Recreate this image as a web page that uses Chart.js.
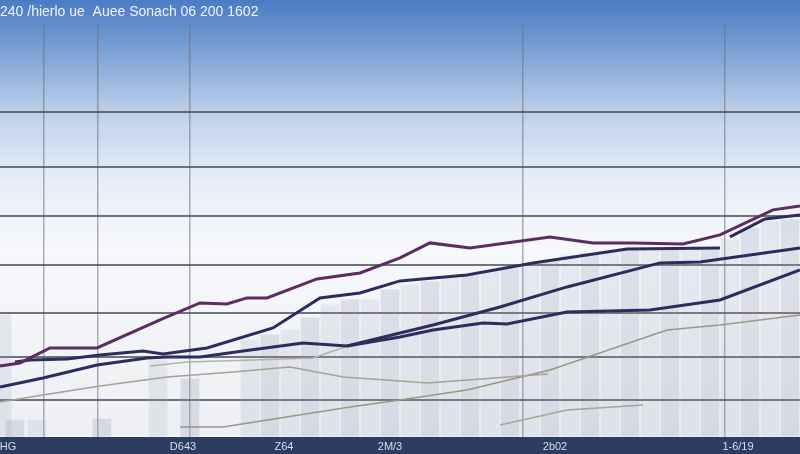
<!DOCTYPE html>
<html><head><meta charset="utf-8">
<script src="https://cdn.jsdelivr.net/npm/chart.js@4.4.1/dist/chart.umd.min.js"></script>
<style>html,body{margin:0;padding:0;background:#fff;overflow:hidden}#wrap{width:800px;height:454px}</style>
</head><body><div id="wrap"><canvas id="c" width="800" height="454"></canvas></div>
<script>
// ---- data ----
const titleText = "240 /hierlo ue  Auee Sonach 06 200 1602";
const tickLabels = ["HG", "D643", "Z64", "2M/3", "2b02", "1-6/19"];
const tickLabelPos = [0.32, 7.32, 11.36, 15.6, 22.2, 29.52];
const xGridPos = [1.76, 3.92, 7.6, 20.92, 29];
const yGridVals = [9.25, 20, 31, 43, 55.25, 67.5, 81.25];

const purpleT = [0, 0.8, 2, 3.88, 6.4, 8, 9.08, 9.88, 10.68, 12.68, 14.4, 16, 17.2, 18.8, 22, 23.72, 25.32, 27.32, 28.8, 30.92, 32];
const purpleV = [17.75, 18.5, 22.25, 22.25, 29.25, 33.5, 33.25, 34.75, 34.75, 39.5, 41, 44.75, 48.5, 47.25, 50, 48.5, 48.5, 48.25, 50.5, 56.75, 57.75];

const navyAT = [0.6, 1.2, 2.68, 4, 5.72, 6.52, 8.28, 10.92, 12.8, 14.4, 16, 18.68, 21.32, 25.08, 28.8];
const navyAV = [18.75, 19.25, 19.5, 20.5, 21.5, 20.75, 22.25, 27.25, 34.75, 36, 39, 40.5, 43.5, 47, 47.25];

const navyBT = [0, 1.72, 3.88, 5.88, 6.68, 8, 9.72, 12.12, 13.88, 16, 17.32, 20, 22.68, 26.4, 28, 32];
const navyBV = [12.5, 14.75, 18, 19.75, 20, 20, 21.5, 23.5, 22.75, 26, 28, 32.5, 37.5, 43.5, 43.75, 47.25];

const navyCT = [13.88, 16, 17.32, 19.32, 20.28, 22.68, 26, 28.8, 32];
const navyCV = [22.75, 25, 26.75, 28.5, 28.25, 31.25, 31.75, 34.25, 41.75];

const navyDT = [29.2, 30.6, 32];
const navyDV = [50, 54.5, 55.5];

const grayAT = [0, 1.72, 4, 6.68, 9.32, 11.6, 13.72, 16, 17.08, 21.92];
const grayAV = [8.75, 10.5, 12.75, 15, 16.25, 17.5, 15, 14, 13.5, 15.75];

const grayBT = [7.2, 8.92, 14, 16, 18.68, 22, 26.68, 28.8, 32];
const grayBV = [2.5, 2.5, 7.5, 9.25, 11.75, 16.75, 26.75, 28, 30.5];

const grayCT = [20, 22.68, 25.72];
const grayCV = [3, 6.75, 8];

const grayDT = [6, 7.48, 10.12, 12.52, 13.8];
const grayDV = [17.75, 18.75, 19.25, 19.75, 22.5];

const barT = [0.08, 0.6, 1.48, 4.08, 6.32, 7.6, 10, 10.8, 11.6, 12.4, 13.2, 14, 14.8, 15.6, 16.4, 17.2, 18, 18.8, 19.6, 20.4, 21.2, 22, 22.8, 23.6, 24.4, 25.2, 26, 26.8, 27.6, 28.4, 29.2, 30, 30.8, 31.6];
const barV = [30.5, 4.25, 4.25, 4.5, 19.25, 14.5, 24.25, 25.5, 26.75, 29.75, 33, 34.25, 34.25, 36.75, 38, 38.75, 39.75, 40.25, 41.25, 42.25, 43.25, 44.25, 45.25, 45.75, 46.25, 46.75, 46.75, 46.75, 46.75, 46.75, 49.25, 52.25, 53.75, 54.25];

// ---- helpers ----
const zip = (t, v) => t.map((x, i) => ({ x: x, y: v[i] }));
const line = (t, v, color, w) => ({
  type: 'line', data: zip(t, v), borderColor: color, borderWidth: w,
  pointRadius: 0, tension: 0, fill: false, order: 1
});

const bgPlugin = {
  id: 'bg',
  beforeDraw(chart) {
    const { ctx, width, height, chartArea } = chart;
    ctx.save();
    const g = ctx.createLinearGradient(0, 0, 0, height);
    g.addColorStop(0, '#4a7bc3');
    g.addColorStop(0.12, '#7fa3d6');
    g.addColorStop(0.25, '#bfd1ea');
    g.addColorStop(0.4, '#e8eef7');
    g.addColorStop(0.55, '#f7f8fb');
    g.addColorStop(1, '#eceef3');
    ctx.fillStyle = g;
    ctx.fillRect(0, 0, width, height);
    ctx.fillStyle = '#2d3c60';
    ctx.fillRect(0, chartArea.bottom, width, height - chartArea.bottom);
    ctx.fillStyle = 'rgba(255,255,255,0.7)';
    ctx.fillRect(0, chartArea.bottom - 1, width, 1);
    ctx.restore();
  }
};

new Chart(document.getElementById('c'), {
  type: 'bar',
  data: {
    datasets: [
      line(purpleT, purpleV, '#5c2c62', 3),
      line(navyAT, navyAV, '#2c2d5e', 3),
      line(navyBT, navyBV, '#2c2d5e', 3),
      line(navyCT, navyCV, '#2c2d5e', 3),
      line(navyDT, navyDV, '#2c2d5e', 3),
      line(grayAT, grayAV, '#a4a394', 1.6),
      line(grayBT, grayBV, '#999884', 1.6),
      line(grayCT, grayCV, '#a6a596', 1.6),
      line(grayDT, grayDV, '#b4b39f', 1.6),
      {
        type: 'bar', data: zip(barT, barV), order: 5,
        backgroundColor: barT.map((_, i) => i % 2 ? 'rgba(150,156,182,0.26)' : 'rgba(160,165,188,0.18)'),
        borderWidth: 0, barThickness: 18, grouped: false
      }
    ]
  },
  options: {
    responsive: false,
    animation: false,
    devicePixelRatio: 1,
    layout: { padding: 0 },
    plugins: {
      legend: { display: false },
      tooltip: { enabled: false },
      title: {
        display: true, text: titleText, align: 'start', color: '#eef3fb',
        font: { family: 'Liberation Sans', size: 14, weight: 'normal' },
        padding: { top: 4, bottom: 4 }
      }
    },
    scales: {
      x: {
        type: 'linear', min: 0, max: 32, offset: false,
        border: { display: false },
        grid: {
          offset: false, drawTicks: false, lineWidth: 1.5,
          color: (c) => (c.tick && xGridPos.includes(c.tick.value)) ? 'rgba(110,110,120,0.55)' : 'rgba(0,0,0,0)'
        },
        afterBuildTicks: (axis) => {
          axis.ticks = xGridPos.concat(tickLabelPos).map(v => ({ value: v }));
        },
        afterFit: (axis) => { axis.height = 17; },
        ticks: {
          autoSkip: false, maxRotation: 0, padding: 3, color: '#d8deea',
          font: { family: 'Liberation Sans Narrow, Liberation Sans', size: 11 },
          callback: (value) => {
            const i = tickLabelPos.indexOf(value);
            return i >= 0 ? tickLabels[i] : '';
          }
        }
      },
      y: {
        type: 'linear', min: 0, max: 103,
        border: { display: false },
        grid: { offset: false, drawTicks: false, color: 'rgba(70,70,80,0.75)', lineWidth: 2 },
        afterBuildTicks: (axis) => { axis.ticks = yGridVals.map(v => ({ value: v })); },
        afterFit: (axis) => { axis.width = 0; },
        ticks: { display: false }
      }
    }
  },
  plugins: [bgPlugin]
});
</script>
</body></html>
